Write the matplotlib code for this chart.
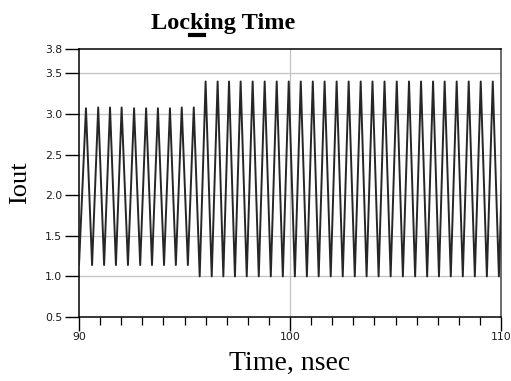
import numpy as np
import matplotlib
matplotlib.use("Agg")
import matplotlib.pyplot as plt
from matplotlib.ticker import MultipleLocator
from matplotlib.lines import Line2D

# peak / trough times (nsec) and levels of the output current
peak_t = [90.33, 90.91, 91.47, 92.02, 92.61, 93.18, 93.74, 94.31, 94.87, 95.44,
          96.00, 96.57, 97.11, 97.66, 98.23, 98.80, 99.37, 99.94, 100.51, 101.08,
          101.64, 102.21, 102.78, 103.35, 103.91, 104.48, 105.06, 105.64, 106.21,
          106.78, 107.33, 107.90, 108.47, 109.04, 109.61, 110.18]
peak_v = [3.07, 3.08, 3.08, 3.08, 3.07, 3.07, 3.07, 3.07, 3.08, 3.08,
          3.40, 3.40, 3.40, 3.40, 3.40, 3.40, 3.40, 3.40, 3.40, 3.40,
          3.40, 3.40, 3.40, 3.40, 3.40, 3.40, 3.40, 3.40, 3.40,
          3.40, 3.40, 3.40, 3.40, 3.40, 3.40, 3.40]
trough_t = [90.00, 90.62, 91.19, 91.75, 92.32, 92.90, 93.46, 94.03, 94.59, 95.16,
            95.72, 96.29, 96.84, 97.39, 97.95, 98.52, 99.09, 99.66, 100.23, 100.80,
            101.36, 101.93, 102.50, 103.07, 103.63, 104.20, 104.77, 105.35, 105.93,
            106.50, 107.06, 107.62, 108.19, 108.76, 109.33, 109.90]
trough_v = [1.14, 1.14, 1.14, 1.14, 1.14, 1.14, 1.14, 1.14, 1.14, 1.14,
            1.00, 1.00, 1.00, 1.00, 1.00, 1.00, 1.00, 1.00, 1.00, 1.00,
            1.00, 1.00, 1.00, 1.00, 1.00, 1.00, 1.00, 1.00, 1.00,
            1.00, 1.00, 1.00, 1.00, 1.00, 1.00, 1.00]

y_ticks = [0.5, 1.0, 1.5, 2.0, 2.5, 3.0, 3.5, 3.8]
x_ticks = [90, 100, 110]

# interleave troughs and peaks into one waveform
t = np.empty(len(trough_t) + len(peak_t))
v = np.empty_like(t)
t[0::2], t[1::2] = trough_t, peak_t
v[0::2], v[1::2] = trough_v, peak_v

fig = plt.figure(figsize=(5.11, 3.81), dpi=100)
ax = fig.add_axes([79/511, 1-317/381, 422/511, 268/381])

for yv in [1.0, 1.5, 2.0, 2.5, 3.0, 3.5]:
    ax.axhline(yv, color='#c4c4c4', lw=0.9, zorder=1)
ax.axvline(100, color='#c4c4c4', lw=0.9, zorder=1)

ax.plot(t, v, color='#262626', lw=1.4, zorder=3)

ax.set_xlim(90, 110)
ax.set_ylim(0.5, 3.8)
ax.set_xticks(x_ticks)
ax.xaxis.set_minor_locator(MultipleLocator(1))
ax.set_yticks(y_ticks)
ax.set_yticklabels(['%.1f' % y for y in y_ticks])

ax.tick_params(axis='x', which='major', length=10, width=1.0, pad=1,
               labelsize=7.8, labelcolor='#1a1a1a')
ax.tick_params(axis='x', which='minor', length=6, width=0.9)
ax.tick_params(axis='y', length=10, width=1.0, pad=2,
               labelsize=7.8, labelcolor='#1a1a1a')
for s in ax.spines.values():
    s.set_linewidth(1.1)
ax.spines['right'].set_color('#444444')

ax.set_xlabel('Time, nsec', family='Liberation Serif', fontsize=20, labelpad=6)
ax.set_ylabel('Iout', family='Liberation Serif', fontsize=19, labelpad=10)

title = fig.text(0.437, 1-29/381, 'Locking Time', family='Liberation Serif',
                 fontsize=17.5, weight='bold', ha='center', va='baseline')

# short bar under the "k" of the title
fig.canvas.draw()
r = fig.canvas.get_renderer()
bb = title.get_window_extent(r)
probe = fig.text(0, 0, 'Loc', family='Liberation Serif', fontsize=17.5, weight='bold')
w_loc = probe.get_window_extent(r).width
probe.set_text('Lock')
w_lock = probe.get_window_extent(r).width
probe.remove()
x0 = (bb.x0 + w_loc) / fig.bbox.width
x1 = (bb.x0 + w_lock) / fig.bbox.width
fig.add_artist(Line2D([x0, x1], [1-35/381, 1-35/381], color='black', lw=3,
                      transform=fig.transFigure))

fig.savefig('out.png', dpi=100)
